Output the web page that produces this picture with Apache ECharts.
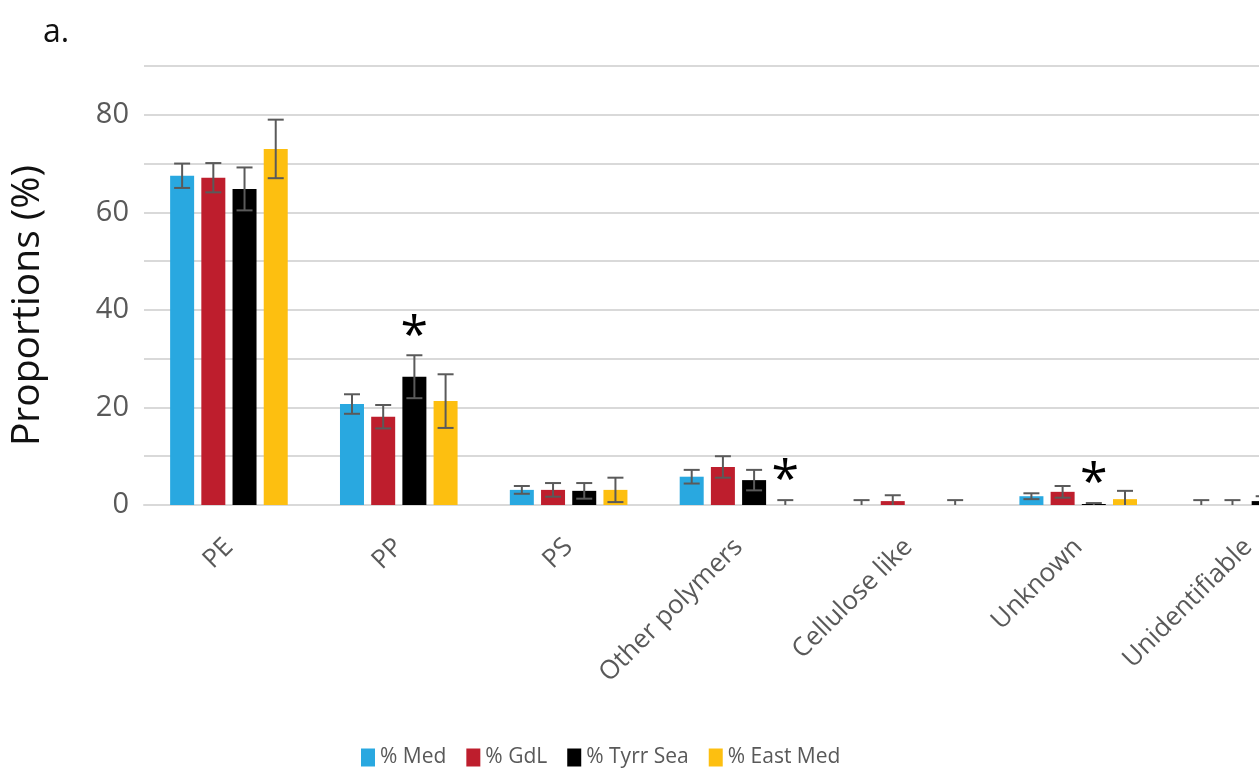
<!DOCTYPE html>
<html>
<head>
<meta charset="utf-8">
<script src="https://cdn.jsdelivr.net/npm/echarts@6/dist/echarts.min.js"></script>
<style>
  html, body { margin: 0; padding: 0; background: #fff; overflow: hidden; }
  /* the figure is cropped on the right in the source, so the canvas runs past the window */
  #chart { width: 1340px; height: 772px; }
</style>
</head>
<body>
<div id="chart"></div>
<script>
// categories + values (mean % and error)
const categories = ['PE', 'PP', 'PS', 'Other polymers', 'Cellulose like', 'Unknown', 'Unidentifiable'];
const seriesNames = ['% Med', '% GdL', '% Tyrr Sea', '% East Med'];
const colors = ['#29A8E0', '#BE1E2D', '#000000', '#FDBF10'];

const med     = [67.5, 20.7, 3.1, 5.8, 0,   1.8, 0];
const medErr  = [2.5,  2.0,  0.8, 1.4, 1.0, 0.6, 1.0];
const gdl     = [67.1, 18.1, 3.1, 7.8, 0.8, 2.7, 0];
const gdlErr  = [3.0,  2.4,  1.4, 2.2, 1.2, 1.2, 1.0];
const tyrr    = [64.8, 26.3, 2.9, 5.1, 0,   0.2, 0.8];
const tyrrErr = [4.4,  4.4,  1.6, 2.1, 0,   0.2, 1.0];
const east    = [73.0, 21.3, 3.1, 0,   0,   1.2, 0];
const eastErr = [6.0,  5.5,  2.5, 1.0, 1.0, 1.7, 0];

// significance asterisks: [series index, category index]
const stars = [[2, 1], [3, 3], [2, 5]];

const yTicks = [0, 20, 40, 60, 80];

const BAR_W = 24;
const BAR_GAP = 0.3; // fraction of bar width
const FONT = '"Open Sans", sans-serif';

const values = [med, gdl, tyrr, east];
const errors = [medErr, gdlErr, tyrrErr, eastErr];

// rows for the error-bar series: [cat, series, value, err, star]
const errRows = [];
values.forEach((vals, si) => {
  vals.forEach((v, ci) => {
    const star = stars.some(s => s[0] === si && s[1] === ci) ? 1 : 0;
    errRows.push([ci, si, v, errors[si][ci], star]);
  });
});

function renderErr(params, api) {
  const ci = api.value(0), si = api.value(1), v = api.value(2), e = api.value(3), star = api.value(4);
  const step = BAR_W * (1 + BAR_GAP);
  const dx = (si - 1.5) * step;
  const top = api.coord([ci, v + e]);
  const bot = api.coord([ci, Math.max(0, v - e)]);
  const x = top[0] + dx;
  const half = 8;
  const st = { stroke: '#5a5a5a', lineWidth: 2 };
  const children = [];
  if (e > 0) {
    children.push({ type: 'line', shape: { x1: x, y1: top[1], x2: x, y2: bot[1] }, style: st });
    children.push({ type: 'line', shape: { x1: x - half, y1: top[1], x2: x + half, y2: top[1] }, style: st });
    if (v - e > 0) {
      children.push({ type: 'line', shape: { x1: x - half, y1: bot[1], x2: x + half, y2: bot[1] }, style: st });
    }
  }
  if (star) {
    children.push({
      type: 'text',
      style: {
        text: '*', x: x, y: top[1] + 7,
        font: '50px ' + FONT, fill: '#000',
        textAlign: 'center', textVerticalAlign: 'bottom'
      }
    });
  }
  return { type: 'group', children };
}

const chart = echarts.init(document.getElementById('chart'), null, { renderer: 'canvas' });

chart.setOption({
  animation: false,
  color: colors,
  title: {
    text: 'a.', left: 38, top: 12,
    textStyle: { fontFamily: FONT, fontSize: 32, fontWeight: 'normal', color: '#111' }
  },
  legend: {
    data: seriesNames,
    left: 356, top: 742,
    icon: 'rect', itemWidth: 14, itemHeight: 18, itemGap: 20,
    textStyle: { fontFamily: FONT, fontSize: 21, color: '#595959' }
  },
  grid: { left: 143, top: 66, right: 7, bottom: 267, containLabel: false },
  xAxis: {
    type: 'category',
    data: categories,
    axisLine: { lineStyle: { color: '#d9d9d9', width: 2 } },
    axisTick: { show: false },
    axisLabel: {
      rotate: 45, margin: 38, interval: 0,
      fontFamily: FONT, fontSize: 26, color: '#595959'
    }
  },
  yAxis: {
    type: 'value',
    min: 0, max: 90, interval: 10,
    name: 'Proportions (%)',
    nameLocation: 'middle', nameRotate: 90, nameGap: 97,
    nameTextStyle: { fontFamily: FONT, fontSize: 39, color: '#111', padding: [0, 0, 0, -40] },
    axisLine: { show: false },
    axisTick: { show: false },
    splitLine: { lineStyle: { color: '#d9d9d9', width: 2 } },
    axisLabel: {
      margin: 15, fontFamily: FONT, fontSize: 29, color: '#595959',
      formatter: v => (yTicks.includes(v) ? String(v) : '')
    }
  },
  series: [
    ...values.map((vals, i) => ({
      name: seriesNames[i],
      type: 'bar',
      data: vals,
      barWidth: BAR_W,
      barGap: (BAR_GAP * 100) + '%',
      itemStyle: { color: colors[i] }
    })),
    {
      name: 'err',
      type: 'custom',
      renderItem: renderErr,
      encode: { x: 0, y: 2 },
      data: errRows,
      z: 5
    }
  ]
});
</script>
</body>
</html>
